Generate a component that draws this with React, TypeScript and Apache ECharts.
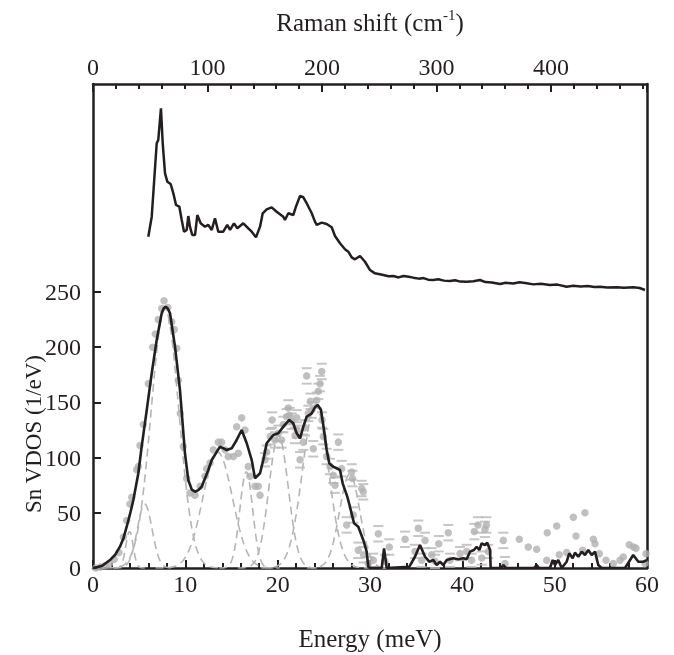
import React, { useEffect, useRef } from "react";
import * as echarts from "echarts";

// Raman spectrum (x in meV, y offset on the VDOS scale)
const ramanX = [5.99, 6.36, 6.9, 7.07, 7.36, 7.55, 7.8, 8.05, 8.41, 8.7, 8.99, 9.35, 9.61, 9.86, 10.15, 10.32, 10.5, 10.75, 11.05, 11.3, 11.66, 12.13, 12.49, 12.86, 13.21, 13.57, 14.11, 14.54, 14.84, 15.27, 15.63, 16.28, 16.82, 17.19, 17.65, 18.09, 18.38, 18.81, 19.35, 19.89, 20.61, 20.79, 21.15, 21.69, 21.98, 22.42, 22.78, 23.14, 23.69, 24.04, 24.23, 24.77, 25.31, 25.85, 26.21, 26.75, 27.29, 27.65, 28.02, 28.37, 28.92, 29.46, 30.0, 30.54, 31.44, 32.0, 32.52, 33.1, 33.61, 34.2, 34.69, 35.3, 35.8, 36.3, 36.85, 37.4, 38.0, 38.66, 39.2, 39.8, 40.47, 41.2, 41.91, 42.5, 43.2, 44.08, 44.7, 45.5, 46.2, 46.97, 47.7, 48.5, 49.49, 50.3, 51.3, 52.0, 52.8, 53.6, 54.3, 54.91, 55.7, 56.72, 57.5, 58.52, 59.2, 59.78];
const ramanY = [300.1, 318.2, 384.7, 387.7, 416.4, 384.7, 357.5, 349.9, 347.8, 339.4, 328.8, 327.3, 315.2, 304.6, 306.2, 318.8, 309.2, 301.6, 301.6, 319.7, 312.2, 309.2, 310.7, 306.2, 316.8, 304.6, 304.6, 310.7, 306.2, 312.2, 307.7, 312.2, 307.7, 304.6, 299.5, 309.2, 321.3, 324.9, 326.7, 322.7, 318.2, 315.2, 321.3, 319.7, 327.3, 337.0, 335.8, 330.4, 321.3, 313.7, 310.7, 312.8, 311.6, 308.6, 300.7, 294.1, 288.7, 286.5, 281.4, 279.6, 282.6, 277.4, 269.9, 266.9, 265.4, 264.2, 264.5, 263.2, 264.5, 263.8, 263.0, 262.1, 262.6, 261.2, 260.9, 261.5, 260.3, 260.0, 260.6, 259.4, 259.3, 259.8, 260.9, 259.0, 258.6, 257.2, 258.3, 257.7, 258.9, 257.9, 256.9, 257.5, 256.3, 256.7, 254.8, 255.6, 255.0, 255.4, 254.5, 254.8, 254.1, 254.3, 253.9, 254.3, 253.6, 251.8];

// Sn VDOS (solid black curve)
const fitX = [0, 0.5, 1.0, 1.84, 2.4, 2.92, 3.3, 3.65, 4.0, 4.37, 4.91, 5.27, 5.82, 6.36, 6.9, 7.44, 7.65, 7.87, 8.1, 8.34, 8.88, 9.42, 9.96, 10.32, 10.7, 11.05, 11.4, 11.77, 12.49, 12.86, 13.75, 14.48, 15.02, 15.56, 16.1, 16.65, 17.19, 17.54, 18.09, 18.44, 18.81, 19.53, 20.07, 20.61, 21.26, 21.69, 22.06, 22.42, 22.78, 23.14, 23.69, 24.04, 24.34, 24.69, 25.02, 25.31, 25.59, 26.02, 26.75, 27.04, 27.54, 27.83, 28.27, 28.73, 29.27, 29.64, 29.81, 30.0, 31.27, 31.52, 31.81, 34.26, 34.87, 35.41, 35.96, 36.42, 36.85, 37.22, 37.58, 37.94, 38.31, 39.02, 39.56, 40.1, 40.47, 40.83, 41.26, 41.55, 41.84, 42.1, 42.45, 42.7, 43.0, 43.07, 44.19, 44.44, 44.73, 47.76, 48.05, 48.3, 49.49, 49.79, 50.03, 50.39, 50.76, 51.3, 51.58, 51.95, 52.2, 52.56, 52.93, 53.28, 53.64, 54.01, 54.37, 54.72, 55.09, 57.62, 58.51, 59.06, 59.6, 59.97];
const fitY = [0, 0.8, 2, 7.2, 12, 19.3, 27, 37.4, 48.5, 61.6, 85.8, 110, 143, 176.4, 206.5, 230.7, 235, 236.7, 235, 230.7, 200.5, 161.2, 103.9, 79.7, 71, 69.1, 70.5, 73.6, 88.8, 97.8, 109.9, 106.9, 108.4, 115.9, 125.0, 113.0, 97.8, 81.3, 85.8, 97.8, 113.0, 120.5, 122.0, 128.0, 134.1, 131.1, 122.0, 117.5, 128.0, 137.0, 140.1, 145.6, 147.6, 143.1, 125.0, 106.9, 94.8, 91.8, 88.8, 76.7, 64.6, 55.5, 40.5, 37.4, 25.4, 14.8, 1.2, 0, 0, 17.8, 0, 1.2, 10.2, 20.8, 10.2, 5.7, 7.2, 2.7, 5.7, 2.7, 7.2, 8.8, 7.9, 8.8, 7.9, 14.8, 16.3, 19.3, 16.3, 22.4, 20.8, 22.9, 16.3, 0, 0, 2.7, 0, 0, 2.7, 0, 0, 7.2, 2.7, 7.2, 0, 5.7, 13.3, 8.8, 13.9, 10.2, 14.8, 11.8, 16.3, 11.8, 14.8, 2.7, 0, 0, 11.8, 5.7, 5.7, 7.2];

// Measured points and their error bars
const pointX = [0.3, 0.8, 1.3, 1.8, 2.3, 2.8, 3.3, 3.65, 4.0, 4.2, 4.73, 4.91, 5.09, 5.45, 5.99, 6.46, 6.75, 7.07, 7.44, 7.69, 8.1, 8.52, 8.8, 9.06, 9.24, 9.45, 9.78, 10.15, 10.5, 11.05, 11.6, 12.13, 12.31, 12.67, 13.03, 13.57, 13.93, 14.3, 14.65, 15.2, 15.56, 15.74, 16.1, 16.46, 16.82, 17.0, 17.54, 17.9, 18.09, 18.63, 18.81, 19.2, 19.4, 19.71, 20.07, 20.43, 20.61, 20.97, 21.15, 21.3, 21.52, 21.88, 22.06, 22.1, 22.42, 22.78, 22.96, 23.14, 23.32, 23.55, 23.69, 23.86, 24.23, 24.4, 24.59, 24.77, 24.8, 24.94, 25.31, 25.67, 26.02, 26.21, 26.57, 26.93, 27.47, 28.02, 28.1, 28.19, 28.73, 29.1, 29.27, 29.3, 29.81, 30.36, 30.9, 31.62, 32.09, 33.8, 34.87, 35.23, 35.6, 35.96, 36.68, 37.04, 37.45, 38.48, 38.66, 39.75, 40.47, 41.0, 41.3, 41.7, 42.1, 42.45, 42.6, 42.81, 44.44, 44.62, 46.17, 47.14, 48.05, 49.14, 49.2, 50.22, 50.5, 51.3, 52.02, 52.31, 53.03, 53.28, 54.19, 54.37, 54.84, 55.56, 56.35, 57.07, 57.43, 58.08, 58.52, 58.81, 59.78, 59.89];
const pointY = [0, 1, 2, 4, 8, 14, 28, 43, 58, 64, 89, 92, 111, 130, 167, 200, 212, 225, 235, 242, 236, 223, 216, 199, 170, 140, 110, 81, 68, 66, 74, 83, 90, 95, 107, 114, 114, 107, 101, 101, 128, 104, 136, 125, 92, 83, 74, 74, 66, 98, 105, 119, 134, 116, 122, 116, 130, 137, 145, 138, 133, 120, 136, 125, 98, 114, 127, 174, 140, 151, 143, 108, 152, 160, 167, 178, 134, 119, 101, 92, 84, 75, 114, 90, 39, 87, 81, 48, 16, 72, 69, 12, 4, 7, 31, 6, 19, 26, 15, 36, 7, 25, 12, 6, 22, 32, 7, 13, 15, 7, 33, 39, 9, 35, 39, 15, 25, 4, 26, 19, 17, 7, 32, 38, 12, 14, 46, 29, 16, 50, 26, 22, 13, 7, 4, 7, 10, 21, 19, 18, 4, 13];
const pointErr = [0, 0, 0, 0, 0, 0, 0, 0, 0, 0, 0, 0, 0, 0, 0, 0, 0, 0, 0, 0, 0, 0, 0, 0, 0, 0, 0, 0, 0, 0, 0, 0, 0, 0, 0, 0, 0, 0, 0, 0, 0, 0, 0, 0, 0, 0, 0, 0, 0, 6, 6, 7, 7, 7, 7, 7, 7, 7, 7, 7, 7, 7, 7, 7, 7, 7, 7, 7, 7, 7, 7, 7, 7, 7, 7, 7, 7, 7, 7, 7, 7, 7, 7, 7, 7, 7, 7, 7, 7, 7, 7, 7, 6, 6, 7, 6, 7, 7, 6, 7, 6, 7, 6, 6, 7, 7, 6, 6, 6, 6, 7, 7, 6, 7, 7, 6, 7, 6, 0, 0, 0, 0, 0, 0, 0, 0, 0, 0, 0, 0, 0, 0, 0, 0, 0, 0, 0, 0, 0, 0, 0, 0];

// Gaussian components (center meV, amplitude 1/eV, sigma meV)
const gaussCenter = [3.95, 5.6, 7.8, 13.5, 16.6, 20.1, 24.1, 27.8];
const gaussAmp = [33, 58, 235, 105, 87, 120, 148, 85];
const gaussSigma = [0.4, 0.8, 1.5, 1.6, 0.7, 1.05, 1.4, 1.1];

const yTickValues = [0, 50, 100, 150, 200, 250];

const MEV_TO_CM = 8.0655;
const X_MAX = 60;
const Y_MAX = 438.4;
const INK = "#231f20";
const FONT = "Liberation Serif";

function gaussCurve(c: number, a: number, s: number) {
  const out: number[][] = [];
  const lo = Math.max(0, c - 4.2 * s);
  const hi = c + 4.2 * s;
  const n = 80;
  for (let i = 0; i <= n; i++) {
    const x = lo + ((hi - lo) * i) / n;
    out.push([x, a * Math.exp(-((x - c) * (x - c)) / (2 * s * s))]);
  }
  return out;
}

export default function App() {
  const ref = useRef<HTMLDivElement>(null);
  useEffect(() => {
    const chart = echarts.init(ref.current!, null, { renderer: "svg" });

    const axisLine = { show: true, onZero: false, lineStyle: { color: INK, width: 2.5 } };
    const tick = { show: true, inside: true, length: 8, lineStyle: { color: INK, width: 2 } };
    const minor = { show: true, splitNumber: 5, length: 5, lineStyle: { color: INK, width: 2 } };
    const label = { color: INK, fontFamily: FONT, fontSize: 24 };

    const gaussSeries = gaussCenter.map((c, i) => ({
      type: "line",
      data: gaussCurve(c, gaussAmp[i], gaussSigma[i]),
      showSymbol: false,
      z: 1,
      lineStyle: { color: "#b5b5b5", width: 1.6, type: [8, 5] },
    }));

    const upper: number[][] = [];
    const lower: number[][] = [];
    pointX.forEach((x, i) => {
      if (pointErr[i] > 0) {
        upper.push([x, pointY[i] + pointErr[i]]);
        lower.push([x, pointY[i] - pointErr[i]]);
      }
    });

    const option: any = {
      animation: false,
      grid: { left: 93, right: 27, top: 84, bottom: 87, show: false, outerBoundsMode: "none", containLabel: false },
      xAxis: [
        {
          type: "value", min: 0, max: X_MAX, interval: 10, position: "bottom",
          axisLine, axisTick: tick, minorTick: minor, splitLine: { show: false },
          axisLabel: { ...label, margin: 4 },
        },
        {
          type: "value", min: 0, max: X_MAX * MEV_TO_CM, interval: 100, position: "top",
          axisLine, axisTick: tick, minorTick: minor, splitLine: { show: false },
          axisLabel: { ...label, margin: 5, showMaxLabel: false },
        },
      ],
      yAxis: [
        {
          type: "value", min: 0, max: Y_MAX, interval: 50, position: "left",
          axisLine, splitLine: { show: false },
          axisTick: { ...tick, customValues: yTickValues },
          axisLabel: { ...label, margin: 12, customValues: yTickValues },
        },
        {
          type: "value", min: 0, max: Y_MAX, position: "right",
          axisLine, axisTick: { show: false }, axisLabel: { show: false }, splitLine: { show: false },
        },
      ],
      graphic: [
        {
          type: "text", x: 370, y: 22,
          style: {
            text: "{a|Raman shift (cm}{s|-1}{a|)}",
            align: "center", verticalAlign: "middle",
            rich: {
              a: { fontFamily: FONT, fontSize: 25, fill: INK, lineHeight: 30 },
              s: { fontFamily: FONT, fontSize: 15, fill: INK, verticalAlign: "top", lineHeight: 30, padding: [0, 0, 8, 0] },
            },
          },
        },
        {
          type: "text", x: 370, y: 638,
          style: { text: "Energy (meV)", fontFamily: FONT, fontSize: 25, fill: INK, align: "center", verticalAlign: "middle" },
        },
        {
          type: "text", x: 33, y: 434, rotation: Math.PI / 2,
          style: { text: "Sn VDOS (1/eV)", fontFamily: FONT, fontSize: 23, fill: INK, align: "center", verticalAlign: "middle" },
        },
      ],
      series: [
        ...gaussSeries,
        {
          type: "scatter", data: upper, symbol: "rect", symbolSize: [10, 2], z: 2,
          itemStyle: { color: "#b8b8b8" },
        },
        {
          type: "scatter", data: lower, symbol: "rect", symbolSize: [10, 2], z: 2,
          itemStyle: { color: "#b8b8b8" },
        },
        {
          type: "scatter", data: pointX.map((x, i) => [x, pointY[i]]), symbolSize: 7.5, z: 3,
          itemStyle: { color: "#b0b0b0" },
        },
        {
          type: "line", data: fitX.map((x, i) => [x, fitY[i]]), showSymbol: false, z: 4,
          lineStyle: { color: INK, width: 2.6 },
        },
        {
          type: "line", data: ramanX.map((x, i) => [x, ramanY[i]]), showSymbol: false, z: 4,
          lineStyle: { color: INK, width: 2.5 },
        },
      ],
    };
    chart.setOption(option);
    return () => chart.dispose();
  }, []);
  return <div ref={ref} style={{ position: "fixed", left: 0, top: 0, width: 674, height: 655 }} />;
}
